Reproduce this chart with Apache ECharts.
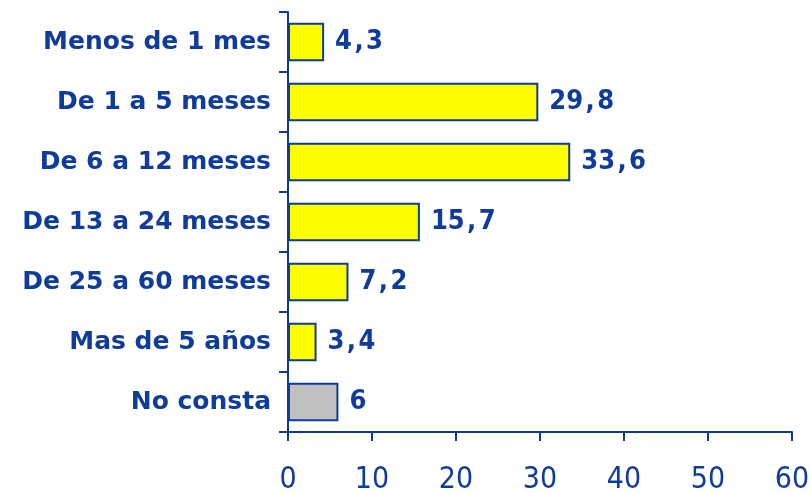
<!DOCTYPE html>
<html><head><meta charset="utf-8">
<script src="https://cdn.jsdelivr.net/npm/echarts@6/dist/echarts.min.js"></script>
<style>html,body{margin:0;padding:0;background:#fff}#c{width:810px;height:493px}</style>
</head><body><div id="c"></div>
<script>
const categories = ["Menos de 1 mes","De 1 a 5 meses","De 6 a 12 meses","De 13 a 24 meses","De 25 a 60 meses","Mas de 5 años","No consta"];
const values = [4.3, 29.8, 33.6, 15.7, 7.2, 3.4, 6];
const labels = ["4,3","29,8","33,6","15,7","7,2","3,4","6"];
const barColors = ["#FFFF00","#FFFF00","#FFFF00","#FFFF00","#FFFF00","#FFFF00","#C0C0C0"];
const xTicks = [0, 10, 20, 30, 40, 50, 60];

const blue = "#0f3b9b";
const chart = echarts.init(document.getElementById('c'));
chart.setOption({
  animation: false,
  grid: {left: 288, right: 18, top: 12, bottom: 61, containLabel: false, outerBoundsMode: 'none'},
  xAxis: {
    type: 'value', min: xTicks[0], max: xTicks[xTicks.length-1], interval: 10,
    axisLine: {show: true, lineStyle: {color: blue, width: 2}},
    axisTick: {show: true, length: 9, lineStyle: {color: blue, width: 2}},
    splitLine: {show: false},
    axisLabel: {color: blue, fontFamily: "'DejaVu Sans Condensed','Liberation Sans Narrow',sans-serif", fontSize: 30, margin: 33}
  },
  yAxis: {
    type: 'category', data: categories, inverse: true,
    axisLine: {show: true, lineStyle: {color: blue, width: 2}},
    axisTick: {show: true, length: 9, lineStyle: {color: blue, width: 2}},
    axisLabel: {color: blue, fontFamily: "'DejaVu Sans',sans-serif", fontWeight: 'bold', fontSize: 25, margin: 17}
  },
  series: [{
    type: 'bar',
    data: values.map((v, i) => ({value: v, itemStyle: {color: barColors[i]}})),
    barCategoryGap: '36%',
    itemStyle: {borderColor: blue, borderWidth: 2},
    label: {
      show: true, position: 'right', distance: 11,
      color: blue, fontFamily: "'DejaVu Sans Condensed','DejaVu Sans',sans-serif", fontWeight: 'bold', fontSize: 27,
      formatter: p => labels[p.dataIndex].replace(',', '\u200A,\u200A')
    }
  }]
});
</script></body></html>
